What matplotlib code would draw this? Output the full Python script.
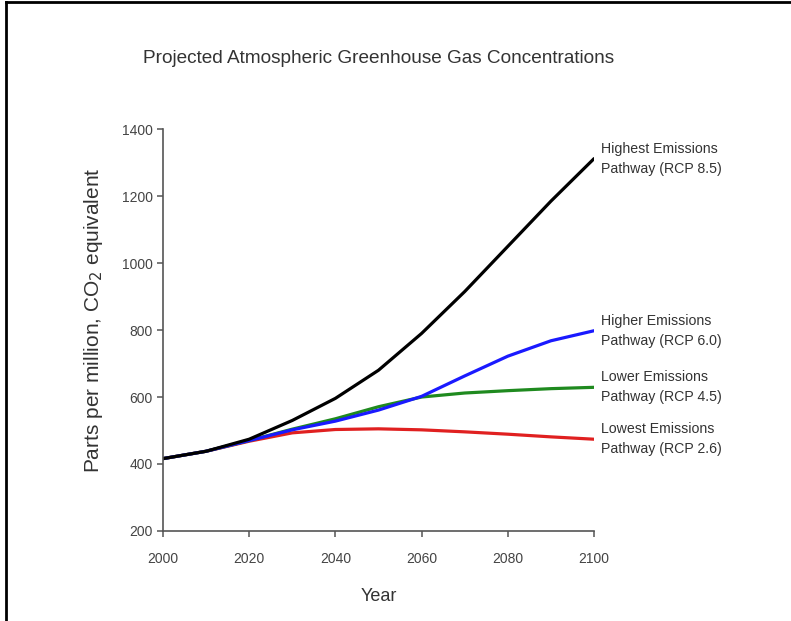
import matplotlib
matplotlib.use('Agg')
import matplotlib.pyplot as plt
from matplotlib.lines import Line2D

plt.rcParams['font.family'] = ['Liberation Sans', 'DejaVu Sans']

years = [2000, 2010, 2020, 2030, 2040, 2050, 2060, 2070, 2080, 2090, 2100]
rcp85 = [416, 438, 474, 530, 596, 680, 790, 915, 1050, 1185, 1312]
rcp60 = [416, 438, 470, 502, 528, 561, 602, 663, 722, 768, 798]
rcp45 = [416, 438, 470, 504, 535, 571, 600, 612, 619, 625, 629]
rcp26 = [416, 438, 468, 493, 503, 505, 502, 496, 489, 481, 474]

series = [
    (rcp85, 'black', 'Highest Emissions\nPathway (RCP 8.5)'),
    (rcp60, '#1a1aff', 'Higher Emissions\nPathway (RCP 6.0)'),
    (rcp45, '#1f8a1f', 'Lower Emissions\nPathway (RCP 4.5)'),
    (rcp26, '#e02020', 'Lowest Emissions\nPathway (RCP 2.6)'),
]

xticks = [2000, 2020, 2040, 2060, 2080, 2100]
yticks = [200, 400, 600, 800, 1000, 1200, 1400]

fig = plt.figure(figsize=(7.91, 6.21), dpi=100)
ax = fig.add_axes([0.206, 0.145, 0.545, 0.647])

# low scenarios first so the black line sits on top
for vals, col, lab in reversed(series):
    ax.plot(years, vals, color=col, lw=2.3, solid_capstyle='round',
            solid_joinstyle='round')
    ax.annotate(lab, xy=(years[-1], vals[-1]), xytext=(5, 0),
                textcoords='offset points', va='center', ha='left',
                fontsize=10.2, color='#333333', linespacing=1.55,
                annotation_clip=False)

ax.set_xlim(2000, 2100)
ax.set_ylim(200, 1400)
ax.set_xticks(xticks)
ax.set_yticks(yticks)
for s in ['top', 'right']:
    ax.spines[s].set_visible(False)
for s in ['left', 'bottom']:
    ax.spines[s].set_color('#555555')
    ax.spines[s].set_linewidth(1.2)
ax.tick_params(colors='#555555', labelcolor='#444444', labelsize=10,
               direction='out', length=4, width=1.1)
ax.tick_params(axis='x', pad=11)

ax.set_xlabel('Year', fontsize=13, color='#333333', labelpad=16)
ax.set_ylabel('Parts per million, CO$_2$ equivalent', fontsize=15,
              color='#333333')
ax.yaxis.set_label_coords(-0.135, 0.525)

fig.text(0.479, 0.905, 'Projected Atmospheric Greenhouse Gas Concentrations',
         ha='center', va='center', fontsize=13.7, color='#333333')

# frame edges left over from the cropped screenshot
fig.add_artist(Line2D([0.0075, 0.0075], [0, 0.997], transform=fig.transFigure,
                      color='black', lw=2))
fig.add_artist(Line2D([0.0075, 1], [0.997, 0.997], transform=fig.transFigure,
                      color='black', lw=2))

fig.savefig('out.png', dpi=100, facecolor='white')
